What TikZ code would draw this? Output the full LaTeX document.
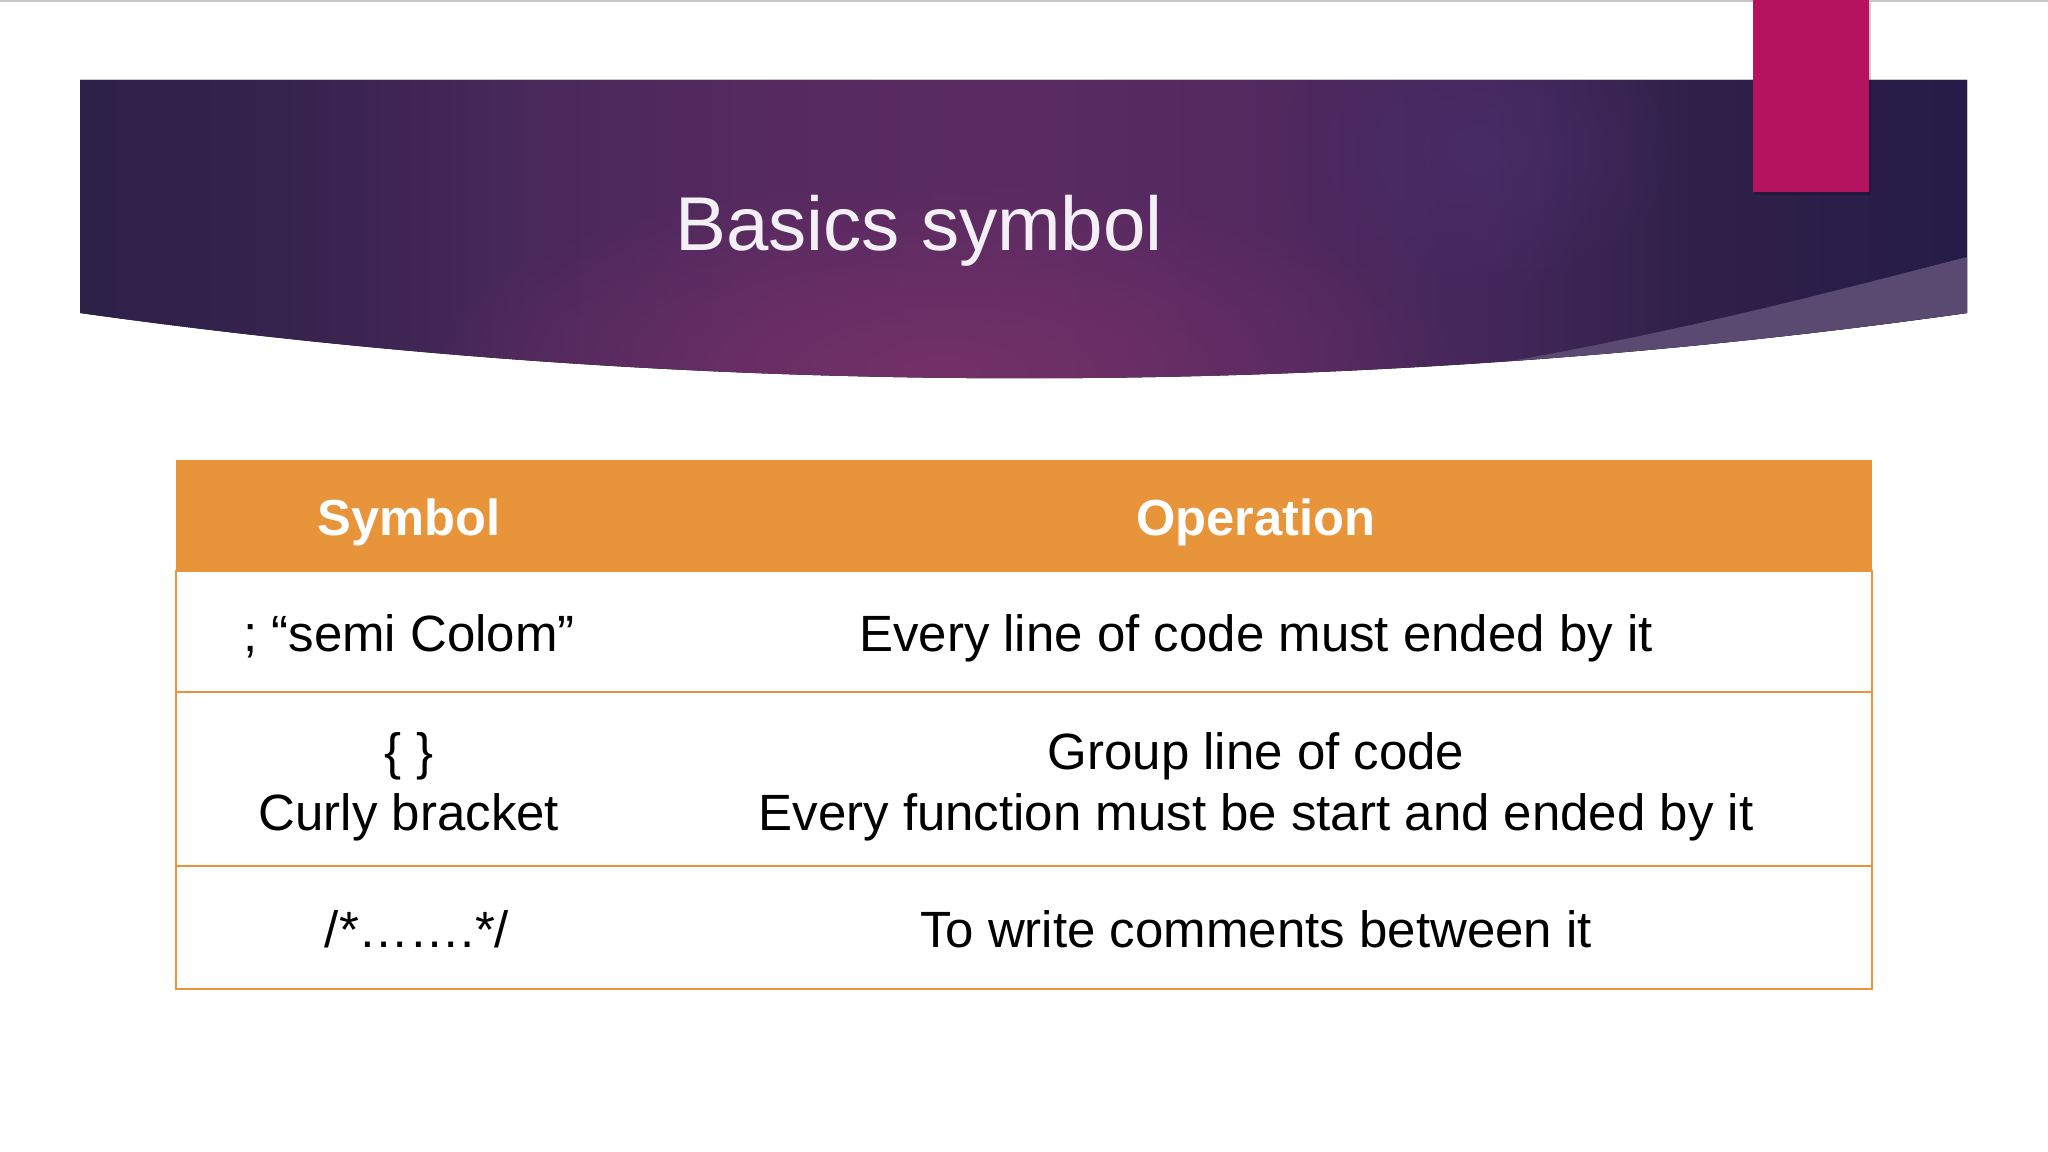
\documentclass[tikz,border=0pt]{standalone}
\usepackage{fontspec}
\setmainfont{Liberation Sans}
\usetikzlibrary{fadings}
\definecolor{hdr}{HTML}{E8943A}
\definecolor{magbar}{HTML}{B5135F}
\definecolor{wedgec}{HTML}{5A4A72}
\definecolor{titlec}{HTML}{F2F0F4}
\definecolor{glowc}{HTML}{733168}
\definecolor{blueglow}{HTML}{4A2F6C}
\definecolor{bzero}{HTML}{2D2148}
\definecolor{bone}{HTML}{35224D}
\definecolor{btwo}{HTML}{48285A}
\definecolor{bthree}{HTML}{562A60}
\definecolor{bfour}{HTML}{5A2B62}
\definecolor{bfive}{HTML}{532960}
\definecolor{bsix}{HTML}{43275B}
\definecolor{bseven}{HTML}{2F2048}
\definecolor{beight}{HTML}{251C48}
\pgfdeclarehorizontalshading{bannershade}{100bp}{color(0bp)=(bzero); color(25bp)=(bzero); color(30bp)=(bone); color(36.5bp)=(btwo); color(43.5bp)=(bthree); color(50bp)=(bfour); color(55.5bp)=(bfive); color(62.5bp)=(bsix); color(68bp)=(bseven); color(75bp)=(beight); color(100bp)=(beight)}
\tikzfading[name=glowfade, inner color=transparent!0, outer color=transparent!100]
\tikzset{
  titletext/.style={anchor=base, inner sep=0pt, text=titlec, font=\fontsize{21.7pt}{26pt}\selectfont},
  hdrtext/.style={anchor=base, inner sep=0pt, text=white, font=\fontsize{14.4pt}{17pt}\selectfont\bfseries},
  celltext/.style={anchor=base, inner sep=0pt, text=black, font=\fontsize{14.5pt}{17.4pt}\selectfont},
  tline/.style={draw=hdr, line width=0.6pt},
}
\begin{document}
\begin{tikzpicture}[x=0.01cm, y=-0.01cm]
\useasboundingbox (0,0) rectangle (2048,1152);
\fill[white] (0,0) rectangle (2048,1152);
\fill[black!22] (0,0) rectangle (2048,2.5);
% banner
\def\bannerpath{(80,80) -- (1967,80) -- (1967,313) .. controls (1350,400) and (700,400) .. (80,313) -- cycle}
\fill[shading=bannershade] \bannerpath;
\begin{scope}
  \clip \bannerpath;
  \fill[glowc, path fading=glowfade] (940,370) ellipse (520 and 190);
  \fill[blueglow, path fading=glowfade, opacity=0.6] (1480,150) ellipse (200 and 150);
  \fill[wedgec] (1967,257) .. controls (1800,300) and (1650,340) .. (1400,380) -- (1400,420) -- (1990,420) -- (1990,257) -- cycle;
\end{scope}
% magenta bar with shadow
\fill[black, opacity=0.2] (1755,3) rectangle (1871,195);
\fill[magbar] (1753,0) rectangle (1869,192);
% title
\node[titletext] (title) at (919,251) {Basics symbol};
% table
\fill[hdr] (176,460) rectangle (1872,571);
\draw[tline] (176,571) rectangle (1872,989);
\draw[tline] (176,692) -- (1872,692);
\draw[tline] (176,866) -- (1872,866);
\node[hdrtext] (h1) at (409,536) {Symbol};
\node[hdrtext] (h2) at (1256,536) {Operation};
\node[celltext] (s1) at (409,652) {; “semi Colom”};
\node[celltext] (o1) at (1256,652) {Every line of code must ended by it};
\node[celltext] (s2a) at (409,769) {\{ \}};
\node[celltext] (s2b) at (409,830) {Curly bracket};
\node[celltext] (o2a) at (1256,769) {Group line of code};
\node[celltext] (o2b) at (1256,830) {Every function must be start and ended by it};
\node[celltext] (s3) at (417,947) {/*…….*/};
\node[celltext] (o3) at (1256,947) {To write comments between it};
\end{tikzpicture}
\end{document}
